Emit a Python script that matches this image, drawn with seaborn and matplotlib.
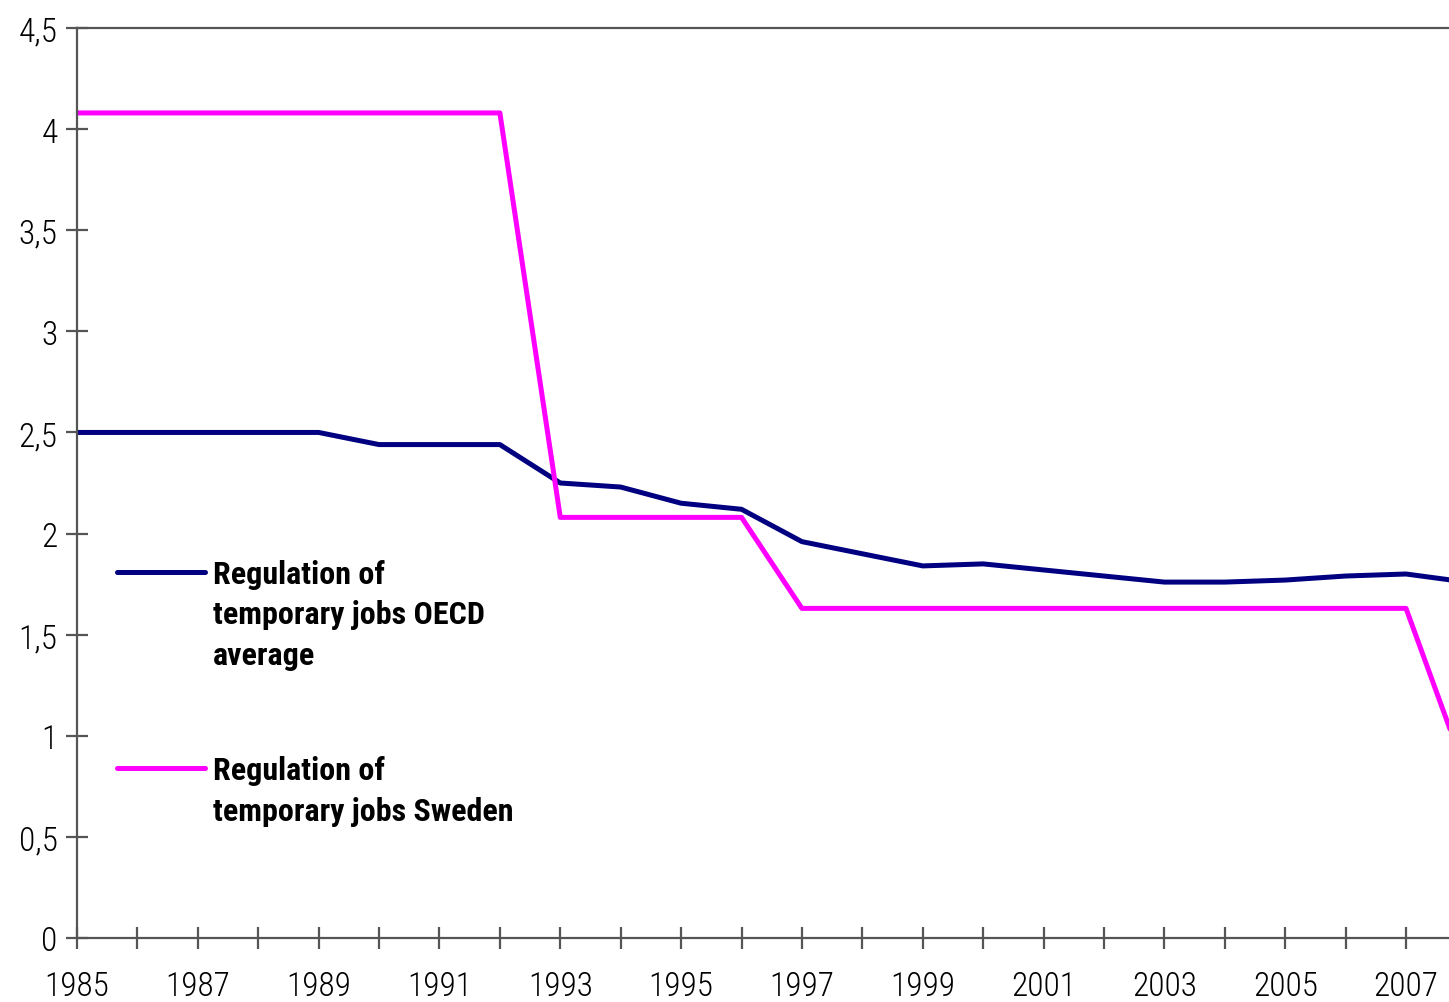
import matplotlib
matplotlib.use("Agg")
import matplotlib.pyplot as plt
import seaborn as sns
import pandas as pd
from matplotlib.lines import Line2D

years = list(range(1985, 2009))
oecd = [2.50, 2.50, 2.50, 2.50, 2.50, 2.44, 2.44, 2.44, 2.25, 2.23, 2.15, 2.12,
        1.96, 1.90, 1.84, 1.85, 1.82, 1.79, 1.76, 1.76, 1.77, 1.79, 1.80, 1.76]
sweden = [4.08, 4.08, 4.08, 4.08, 4.08, 4.08, 4.08, 4.08, 2.08, 2.08, 2.08, 2.08,
          1.63, 1.63, 1.63, 1.63, 1.63, 1.63, 1.63, 1.63, 1.63, 1.63, 1.63, 0.81]
oecd_label = ["Regulation of", "temporary jobs OECD", "average"]
sweden_label = ["Regulation of", "temporary jobs Sweden"]
y_ticks = [0, 0.5, 1, 1.5, 2, 2.5, 3, 3.5, 4, 4.5]

df = pd.DataFrame({"year": years, "oecd": oecd, "sweden": sweden})

sns.set_style("white")
plt.rcParams['font.family'] = ['Roboto Condensed', 'DejaVu Sans']
plt.rcParams['text.color'] = 'black'

fig = plt.figure(figsize=(14.49, 10.03), dpi=100)
# axes run past the right edge of the picture, as in the cropped original
left, extra = 77 / 1449, 0.02
ax = fig.add_axes([left, 64 / 1003, 1 - left + extra, (939 - 29) / 1003])

navy = "#000080"
magenta = "#FF00FF"
sns.lineplot(x="year", y="oecd", data=df, color=navy, lw=3.6, ax=ax)
sns.lineplot(x="year", y="sweden", data=df, color=magenta, lw=3.6, ax=ax)

px_per_year = 60.41
ax.set_xlim(1985, 1985 + (1449 * (1 - left + extra)) / px_per_year)
ax.set_ylim(0, 4.5)
ax.set_xlabel("")
ax.set_ylabel("")

ax.set_xticks(years)
ax.set_xticklabels([str(y) if (y - 1985) % 2 == 0 else "" for y in years])
ax.set_yticks(y_ticks)
ax.set_yticklabels([("%g" % v).replace(".", ",") for v in y_ticks])
for lab in ax.get_xticklabels() + ax.get_yticklabels():
    lab.set_fontweight("light")

for side in ["left", "bottom", "top"]:
    ax.spines[side].set_color("#555555")
    ax.spines[side].set_linewidth(1.6)
ax.spines["right"].set_visible(False)
ax.tick_params(axis="both", direction="inout", length=16, width=1.6, color="#555555",
               labelsize=24, labelcolor="black", bottom=True, left=True)
ax.tick_params(axis="x", pad=15)
ax.tick_params(axis="y", pad=6)

blank = Line2D([], [], color="none")
h1 = Line2D([], [], color=navy, lw=3.6)
h2 = Line2D([], [], color=magenta, lw=3.6)
leg_kw = dict(frameon=False, prop={"weight": "bold", "size": 23}, handlelength=2.75,
              handletextpad=0.25, labelspacing=0.32, borderaxespad=0, borderpad=0,
              labelcolor="black")
leg1 = ax.legend([h1, blank, blank], oecd_label, loc="upper left",
                 bbox_to_anchor=(0.0285, 0.4162), **leg_kw)
ax.add_artist(leg1)
ax.legend([h2, blank], sweden_label, loc="upper left",
          bbox_to_anchor=(0.0285, 0.2007), **leg_kw)

fig.savefig("out.png", dpi=100)
